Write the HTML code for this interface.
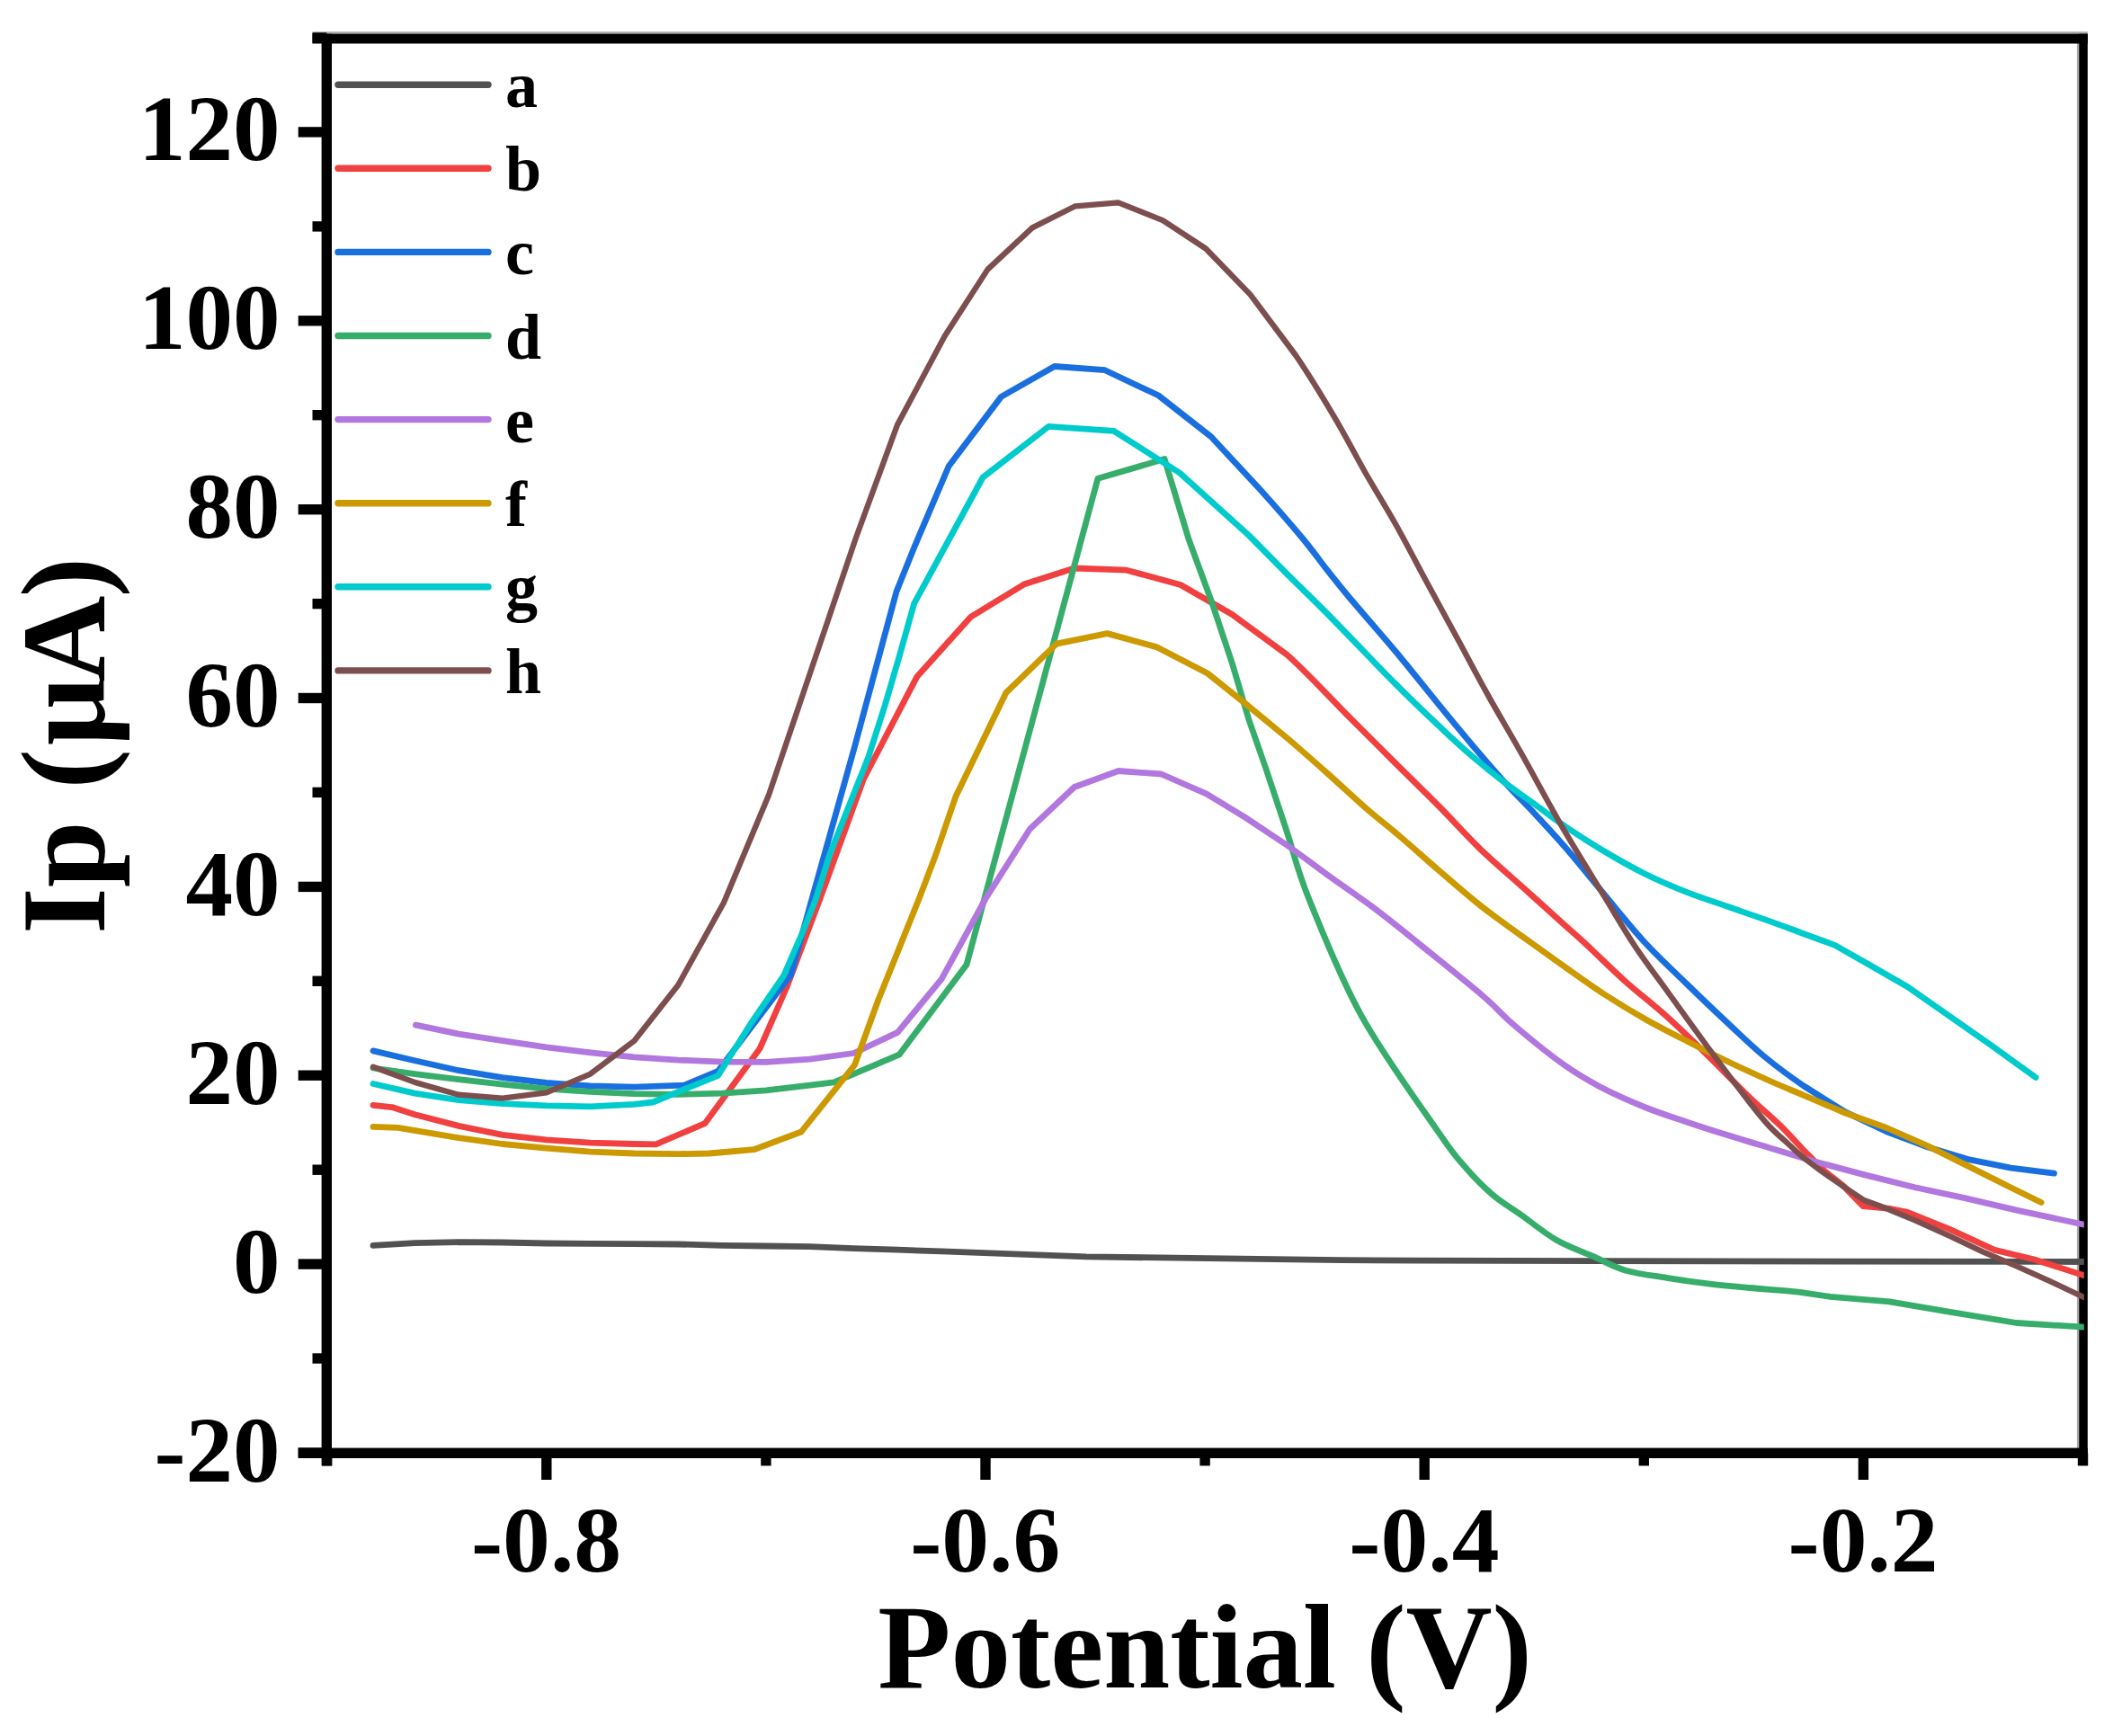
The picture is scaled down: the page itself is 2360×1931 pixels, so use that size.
<!DOCTYPE html>
<html lang="en"><head><meta charset="utf-8"><title>Ip vs Potential</title>
<style>
html,body{margin:0;padding:0;background:#fff;}
body{width:2360px;height:1931px;overflow:hidden;}
svg{display:block;}
text{font-family:"Liberation Serif","Times New Roman",serif;font-weight:bold;fill:#000;}
.tk{font-size:104px;}
.lg{font-size:72px;}
.ax{font-size:133px;}
</style></head><body>
<svg width="2360" height="1931" viewBox="0 0 2360 1931">
<rect x="0" y="0" width="2360" height="1931" fill="#fff"/>
<defs><clipPath id="plot"><rect x="363.3" y="43.0" width="1954.5" height="1573.3"/></clipPath></defs>
<g><rect x="347.5" y="35.2" width="1974.3" height="3" fill="#a9a9a9"/><rect x="2309.9" y="48.0" width="3" height="1563.3" fill="#a9a9a9"/><rect x="347.5" y="37.7" width="1974.3" height="10.8" fill="#000"/><rect x="2312.3" y="37.7" width="9.5" height="1584.3" fill="#000"/><rect x="357.6" y="37.7" width="11.4" height="1592.7" fill="#000"/><rect x="331.7" y="1610.6" width="1990.1" height="11.4" fill="#000"/><rect x="331.7" y="1610.3" width="31.6" height="11.4" fill="#000"/><rect x="347.5" y="1505.3" width="15.8" height="11.4" fill="#000"/><rect x="331.7" y="1400.4" width="31.6" height="11.4" fill="#000"/><rect x="347.5" y="1295.5" width="15.8" height="11.4" fill="#000"/><rect x="331.7" y="1190.5" width="31.6" height="11.4" fill="#000"/><rect x="347.5" y="1085.6" width="15.8" height="11.4" fill="#000"/><rect x="331.7" y="980.7" width="31.6" height="11.4" fill="#000"/><rect x="347.5" y="875.7" width="15.8" height="11.4" fill="#000"/><rect x="331.7" y="770.8" width="31.6" height="11.4" fill="#000"/><rect x="347.5" y="665.9" width="15.8" height="11.4" fill="#000"/><rect x="331.7" y="561.0" width="31.6" height="11.4" fill="#000"/><rect x="347.5" y="456.0" width="15.8" height="11.4" fill="#000"/><rect x="331.7" y="351.1" width="31.6" height="11.4" fill="#000"/><rect x="347.5" y="246.2" width="15.8" height="11.4" fill="#000"/><rect x="331.7" y="141.2" width="31.6" height="11.4" fill="#000"/><rect x="347.5" y="36.3" width="15.8" height="11.4" fill="#000"/><rect x="358.0" y="1616.3" width="11.4" height="14.1" fill="#000"/><rect x="602.1" y="1616.3" width="11.4" height="29.7" fill="#000"/><rect x="846.2" y="1616.3" width="11.4" height="14.1" fill="#000"/><rect x="1090.3" y="1616.3" width="11.4" height="29.7" fill="#000"/><rect x="1334.4" y="1616.3" width="11.4" height="14.1" fill="#000"/><rect x="1578.5" y="1616.3" width="11.4" height="29.7" fill="#000"/><rect x="1822.6" y="1616.3" width="11.4" height="14.1" fill="#000"/><rect x="2066.7" y="1616.3" width="11.4" height="29.7" fill="#000"/><rect x="2310.8" y="1616.3" width="11.4" height="14.1" fill="#000"/></g>
<g clip-path="url(#plot)"><path d="M415.0 1385.3L461.3 1382.7L510.2 1381.7L559.0 1382.0L607.8 1383.0L656.6 1383.3L705.4 1383.7L754.3 1384.0L803.1 1385.3L851.9 1386.0L900.7 1386.6L949.5 1388.6L998.4 1390.2L1047.2 1391.9L1208.0 1397.9L1491.0 1401.6C1585.3 1402.4 1636.2 1402.3 1774.0 1402.6L2318.0 1403.5" fill="none" stroke="#515151" stroke-width="6.8" stroke-linejoin="round" stroke-linecap="round"/><path d="M415.0 1229.3L435.9 1231.6L461.3 1239.8L510.1 1252.4L558.9 1262.3L607.7 1267.9L656.6 1271.2L705.4 1272.5L729.5 1272.8L783.9 1249.7L844.9 1166.6L874.6 1099.0L911.5 1001.0L960.6 866.2L1020.0 752.4L1079.4 686.4L1138.7 650.1L1194.8 632.0L1253.0 634.2L1312.9 650.5L1370.0 683.3L1431.0 728.0C1452.2 746.5 1478.0 775.0 1497.5 794.5C1517.0 814.0 1530.8 827.8 1548.0 845.0C1565.2 862.2 1584.7 881.0 1601.0 897.5C1617.3 914.0 1630.9 929.5 1646.1 944.2C1661.3 958.9 1676.8 971.9 1692.2 985.7C1707.6 999.5 1726.3 1016.5 1738.2 1027.2C1750.1 1037.9 1752.1 1039.3 1763.6 1050.0C1775.1 1060.7 1792.4 1078.1 1807.4 1091.5C1822.4 1104.9 1838.2 1116.8 1853.5 1130.6C1868.8 1144.4 1884.2 1159.4 1899.5 1174.4C1914.8 1189.4 1932.2 1207.6 1945.6 1220.5C1959.0 1233.4 1969.9 1242.2 1980.0 1252.0C1990.1 1261.8 1997.9 1271.1 2006.1 1279.5L2029.1 1302.5L2050.0 1319.0L2072.0 1341.5L2101.4 1344.3L2120.2 1348.0L2167.4 1366.9L2218.3 1390.4L2261.6 1400.8L2318.0 1418.7" fill="none" stroke="#F14040" stroke-width="6.8" stroke-linejoin="round" stroke-linecap="round"/><path d="M415.0 1168.9L461.3 1179.8L510.1 1190.7L558.9 1198.6L607.7 1204.5L656.6 1207.8L705.4 1209.1L760.8 1207.2L798.7 1191.3L879.6 1084.1L903.0 1000.0L950.7 829.9L996.9 658.3L1016.7 608.9L1055.2 518.5L1113.4 441.4L1172.8 407.5L1228.8 411.7L1288.2 439.8L1346.9 485.8L1401.0 544.0C1417.8 562.7 1435.4 582.9 1448.0 598.0C1460.6 613.1 1467.8 623.6 1476.5 634.6C1485.2 645.6 1487.5 648.8 1500.0 663.8C1512.5 678.8 1534.5 703.6 1551.8 724.3C1569.1 745.0 1589.3 770.6 1603.7 788.2C1618.1 805.8 1626.7 816.2 1638.2 829.7C1649.7 843.2 1661.3 856.8 1672.8 869.5C1684.3 882.2 1695.9 893.3 1707.4 905.7C1718.9 918.1 1729.1 928.9 1741.9 943.8C1754.7 958.7 1769.8 977.5 1784.3 994.9C1798.8 1012.3 1813.6 1031.3 1829.0 1048.0C1844.4 1064.7 1860.9 1079.8 1876.5 1095.0C1892.1 1110.2 1908.3 1125.7 1922.6 1139.0C1936.8 1152.3 1948.1 1163.5 1962.0 1175.0C1975.9 1186.5 1991.1 1197.7 2006.1 1208.0L2052.2 1236.9L2098.2 1258.8L2144.3 1276.0L2190.4 1289.9L2236.5 1299.1L2284.5 1305.2" fill="none" stroke="#1A6FDF" stroke-width="6.8" stroke-linejoin="round" stroke-linecap="round"/><path d="M415.0 1188.0L461.3 1194.6L510.1 1200.6L558.9 1206.2L607.7 1211.1L656.6 1214.4L705.4 1216.7L754.2 1217.4L803.0 1216.1L851.9 1212.8L900.7 1207.2L927.4 1203.9L949.5 1194.6L1000.0 1173.2L1075.0 1073.0L1221.0 532.2L1295.1 510.6L1322.1 600.0L1347.5 669.1L1370.5 738.2L1388.9 800.5L1407.4 853.5C1414.3 873.9 1422.3 898.2 1430.4 922.6C1438.5 947.0 1441.8 965.4 1455.8 1000.0C1469.8 1034.6 1490.4 1087.1 1514.4 1130.4C1538.4 1173.7 1580.7 1231.6 1600.0 1259.7C1619.3 1287.8 1620.0 1287.3 1630.0 1298.8C1640.0 1310.3 1649.5 1320.0 1659.9 1328.8C1670.3 1337.6 1680.3 1343.3 1692.2 1351.8C1704.1 1360.2 1717.9 1371.8 1731.3 1379.5C1744.7 1387.2 1760.1 1392.3 1772.8 1397.9C1785.5 1403.5 1794.0 1409.0 1807.4 1412.9C1820.9 1416.8 1838.2 1418.9 1853.5 1421.4C1868.8 1423.9 1884.2 1426.1 1899.5 1427.9C1914.8 1429.8 1928.8 1431.0 1945.6 1432.5C1962.3 1434.0 1985.0 1435.5 2000.0 1437.1L2035.4 1442.3L2101.4 1447.9L2167.4 1459.2L2242.7 1471.5L2318.0 1476.2" fill="none" stroke="#37AD6B" stroke-width="6.8" stroke-linejoin="round" stroke-linecap="round"/><path d="M462.3 1140.2L510.1 1150.1L558.9 1157.7L607.7 1164.9L656.6 1170.9L705.4 1175.8L754.2 1179.1L803.0 1181.1L851.9 1181.4L900.7 1178.1L949.5 1171.5L998.3 1148.4L1047.1 1089.1L1095.9 1000.0L1145.3 922.2L1194.8 875.5L1244.0 857.5L1291.5 861.0L1342.0 883.2L1384.3 908.8L1430.4 939.5C1445.8 950.2 1459.9 961.3 1476.5 973.3C1493.1 985.3 1512.7 998.5 1530.0 1011.5C1547.3 1024.5 1560.5 1035.4 1580.4 1051.5C1600.3 1067.6 1632.2 1093.2 1649.5 1108.0C1666.8 1122.8 1669.3 1127.9 1684.1 1140.5C1698.9 1153.1 1722.3 1172.2 1738.2 1183.6C1754.1 1195.0 1764.3 1200.9 1779.7 1209.0C1795.1 1217.1 1814.3 1225.5 1830.4 1232.0C1846.5 1238.5 1861.1 1243.0 1876.5 1248.2C1891.9 1253.4 1907.2 1258.3 1922.6 1263.1C1938.0 1267.9 1953.0 1272.3 1968.7 1277.0L2016.6 1291.5L2073.1 1306.6L2129.7 1320.7L2186.2 1332.9L2242.7 1346.1L2318.0 1362.2" fill="none" stroke="#B177DE" stroke-width="6.8" stroke-linejoin="round" stroke-linecap="round"/><path d="M415.0 1253.3L442.5 1254.3L510.1 1265.6L558.9 1272.5L607.7 1277.1L656.6 1281.1L705.4 1283.0L754.2 1283.7L788.8 1283.0L838.3 1278.7L891.1 1259.0L950.5 1184.7L976.5 1113.0L998.3 1059.0L1023.2 997.0L1041.0 950.0L1062.9 886.0L1118.9 770.5L1175.0 716.1L1231.4 704.6L1286.0 719.6L1343.0 749.0L1384.3 782.0L1430.4 820.0C1445.8 833.1 1461.9 847.4 1476.5 860.4C1491.1 873.4 1504.6 886.3 1518.0 898.0C1531.4 909.7 1543.4 918.8 1557.1 930.5C1570.8 942.2 1585.2 955.2 1600.0 968.0C1614.8 980.8 1630.7 994.8 1646.1 1007.0C1661.5 1019.2 1676.8 1029.8 1692.2 1041.0C1707.6 1052.2 1722.9 1063.2 1738.2 1074.0C1753.5 1084.8 1768.9 1096.0 1784.3 1106.0C1799.7 1116.0 1815.0 1125.3 1830.4 1134.0C1845.8 1142.7 1861.1 1150.4 1876.5 1158.3C1891.9 1166.2 1907.2 1173.9 1922.6 1181.3C1938.0 1188.7 1954.8 1196.3 1968.7 1202.5C1982.6 1208.7 1992.2 1212.5 2006.1 1218.4L2052.2 1238.0L2098.2 1254.5L2144.3 1274.9L2190.4 1297.9L2236.5 1321.0L2270.1 1337.5" fill="none" stroke="#CC9900" stroke-width="6.8" stroke-linejoin="round" stroke-linecap="round"/><path d="M415.0 1205.5L461.3 1216.1L510.1 1223.7L558.9 1227.6L607.7 1229.9L656.6 1230.9L705.4 1228.3L726.2 1226.0L798.7 1196.3L835.0 1138.5L871.5 1085.5L893.0 1036.0L907.3 1000.0L923.0 950.0L947.5 888.0L965.9 841.9L984.3 784.3L1000.5 729.0L1016.6 671.4L1093.1 531.0L1166.2 474.4L1238.7 479.4L1312.0 526.0L1388.9 595.5L1430.4 637.5C1445.0 652.1 1456.3 662.5 1476.5 683.0C1496.7 703.5 1530.6 739.2 1551.8 760.5C1573.0 781.8 1589.3 797.1 1603.7 810.7C1618.1 824.3 1626.7 832.1 1638.2 842.0C1649.7 851.9 1661.3 861.2 1672.8 870.0C1684.3 878.8 1695.9 886.7 1707.4 895.0C1718.9 903.3 1729.1 911.3 1741.9 920.0C1754.7 928.7 1769.5 938.2 1784.3 947.0C1799.0 955.8 1815.0 964.9 1830.4 972.5C1845.8 980.1 1861.1 986.6 1876.5 992.6C1891.9 998.6 1907.2 1003.4 1922.6 1008.8C1938.0 1014.2 1954.8 1019.9 1968.7 1024.9C1982.6 1029.9 1994.1 1034.3 2006.1 1038.7L2040.6 1051.4L2075.2 1071.0L2121.3 1097.5L2167.4 1129.7L2213.5 1162.0L2264.1 1198.4" fill="none" stroke="#00CBCC" stroke-width="6.8" stroke-linejoin="round" stroke-linecap="round"/><path d="M415.0 1186.7L461.3 1203.9L510.1 1217.7L558.9 1221.7L607.7 1215.4L656.6 1194.6L705.4 1157.7L754.2 1095.7L805.0 1004.0L855.0 884.3L952.0 598.0L997.9 472.8L1050.7 373.8L1098.5 299.6L1148.0 253.4L1195.9 229.3L1243.7 225.4L1293.2 245.1L1341.0 276.5L1390.5 327.6L1440.9 395.0C1456.5 417.8 1471.3 442.4 1484.3 464.3C1497.3 486.2 1507.4 506.3 1518.9 526.5C1530.4 546.7 1542.0 564.9 1553.5 585.5C1565.0 606.1 1576.8 629.2 1588.1 650.0C1599.3 670.8 1609.8 689.8 1621.0 710.5C1632.2 731.2 1643.7 753.1 1655.5 774.4C1667.3 795.6 1678.2 813.5 1692.0 838.0C1705.8 862.5 1722.8 894.7 1738.2 921.2C1753.6 947.7 1771.0 975.4 1784.3 997.2C1797.6 1019.0 1806.5 1034.6 1818.0 1052.0C1829.5 1069.4 1839.9 1082.7 1853.5 1101.5C1867.1 1120.3 1884.2 1144.2 1899.5 1165.0C1914.8 1185.8 1934.2 1211.3 1945.6 1226.0C1957.0 1240.7 1960.6 1245.1 1968.0 1253.0C1975.4 1260.9 1983.7 1267.7 1990.0 1273.5C1996.3 1279.3 2000.1 1283.1 2006.1 1288.0L2026.0 1303.0L2050.5 1320.0L2073.1 1335.0L2095.0 1343.0L2129.7 1357.4L2167.4 1374.4L2205.1 1392.3L2242.7 1408.3L2280.4 1425.3L2318.0 1443.2" fill="none" stroke="#7D4E4E" stroke-width="6.3" stroke-linejoin="round" stroke-linecap="round"/></g>
<g><line x1="376" y1="94.2" x2="543" y2="94.2" stroke="#515151" stroke-width="7.4" stroke-linecap="round"/><text class="lg" x="562" y="119.2">a</text><line x1="376" y1="187.3" x2="543" y2="187.3" stroke="#F14040" stroke-width="7.4" stroke-linecap="round"/><text class="lg" x="562" y="212.3">b</text><line x1="376" y1="280.4" x2="543" y2="280.4" stroke="#1A6FDF" stroke-width="7.4" stroke-linecap="round"/><text class="lg" x="562" y="305.4">c</text><line x1="376" y1="373.5" x2="543" y2="373.5" stroke="#37AD6B" stroke-width="7.4" stroke-linecap="round"/><text class="lg" x="562" y="398.5">d</text><line x1="376" y1="466.6" x2="543" y2="466.6" stroke="#B177DE" stroke-width="7.4" stroke-linecap="round"/><text class="lg" x="562" y="491.6">e</text><line x1="376" y1="559.7" x2="543" y2="559.7" stroke="#CC9900" stroke-width="7.4" stroke-linecap="round"/><text class="lg" x="562" y="584.7">f</text><line x1="376" y1="652.8" x2="543" y2="652.8" stroke="#00CBCC" stroke-width="7.4" stroke-linecap="round"/><text class="lg" x="562" y="677.8">g</text><line x1="376" y1="745.9" x2="543" y2="745.9" stroke="#7D4E4E" stroke-width="7.4" stroke-linecap="round"/><text class="lg" x="562" y="770.9">h</text></g>
<g><text class="tk" transform="translate(311.5,1647.5) scale(1.01,1)" text-anchor="end">-20</text><text class="tk" transform="translate(311.5,1437.6) scale(1.01,1)" text-anchor="end">0</text><text class="tk" transform="translate(311.5,1227.7) scale(1.01,1)" text-anchor="end">20</text><text class="tk" transform="translate(311.5,1017.9) scale(1.01,1)" text-anchor="end">40</text><text class="tk" transform="translate(311.5,808.0) scale(1.01,1)" text-anchor="end">60</text><text class="tk" transform="translate(311.5,598.2) scale(1.01,1)" text-anchor="end">80</text><text class="tk" transform="translate(311.5,388.3) scale(1.01,1)" text-anchor="end">100</text><text class="tk" transform="translate(311.5,178.4) scale(1.01,1)" text-anchor="end">120</text><text class="tk" transform="translate(607.5,1748) scale(1.015,1)" text-anchor="middle">-0.8</text><text class="tk" transform="translate(1095.7,1748) scale(1.015,1)" text-anchor="middle">-0.6</text><text class="tk" transform="translate(1583.9,1748) scale(1.015,1)" text-anchor="middle">-0.4</text><text class="tk" transform="translate(2072.1,1748) scale(1.015,1)" text-anchor="middle">-0.2</text></g>
<text class="ax" x="1340" y="1877" text-anchor="middle">Potential (V)</text>
<text class="ax" transform="translate(115.5,829.5) rotate(-90)" text-anchor="middle">Ip <tspan dx="2.6">(</tspan><tspan dx="4">μ</tspan><tspan dx="-4.7">A</tspan><tspan dx="-1.9">)</tspan></text>
</svg></body></html>
